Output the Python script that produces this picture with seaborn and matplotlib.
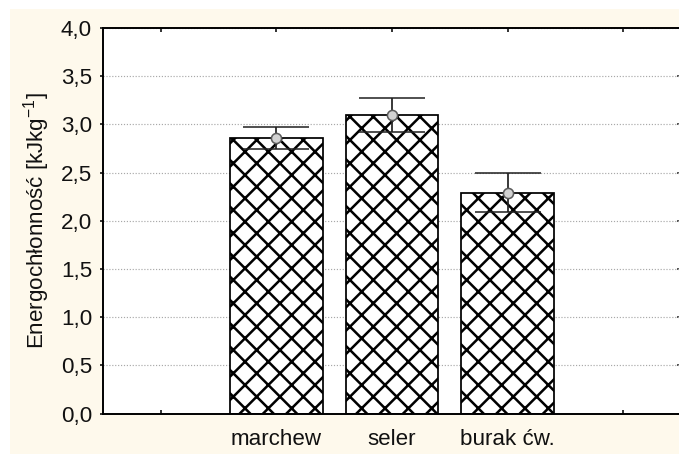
import numpy as np
import pandas as pd
import matplotlib
matplotlib.use("Agg")
import matplotlib.pyplot as plt
from matplotlib.patches import Rectangle
from matplotlib.ticker import FuncFormatter
import seaborn as sns

# Mean specific energy with confidence interval limits
categories = ["marchew", "seler", "burak ćw."]
means = [2.86, 3.10, 2.29]
ci_low = [2.74, 2.92, 2.09]
ci_high = [2.97, 3.27, 2.50]
y_ticks = [0.0, 0.5, 1.0, 1.5, 2.0, 2.5, 3.0, 3.5, 4.0]
y_label = "Energochłonność [kJkg$^{-1}$]"

sns.set_theme(style="white")
plt.rcParams["font.family"] = ["Liberation Sans", "DejaVu Sans"]
plt.rcParams["mathtext.fontset"] = "custom"
plt.rcParams["mathtext.rm"] = "Liberation Sans"
plt.rcParams["mathtext.it"] = "Liberation Sans"
plt.rcParams["hatch.linewidth"] = 1.3
plt.rcParams["hatch.color"] = "black"

FS = 11.5
DPI = 140
fig = plt.figure(figsize=(679 / DPI, 454 / DPI), dpi=DPI)
fig.patch.set_facecolor("white")
fig.patches.append(Rectangle((10 / 679, 0), 1, (454 - 9) / 454,
                             transform=fig.transFigure, facecolor="#FEF9EC",
                             edgecolor="none", zorder=-10))

ax = fig.add_axes([103 / 679, (454 - 413.7) / 454, 578 / 679, 385.7 / 454])
ax.set_facecolor("white")

df = pd.DataFrame({"produkt": categories, "energia": means})
order = [""] + categories + [" "]
sns.barplot(data=df, x="produkt", y="energia", order=order, ax=ax,
            color="white", saturation=1, edgecolor="black", linewidth=0.9,
            hatch="xx", width=0.8, errorbar=None, zorder=2)

# error bars centred on the drawn bars
centres = [p.get_x() + p.get_width() / 2 for p in ax.patches if p.get_height() > 0]
m = np.array(means)
yerr = [m - np.array(ci_low), np.array(ci_high) - m]
ax.errorbar(centres, m, yerr=yerr, fmt="o", color="#222222", elinewidth=0.9,
            capsize=17, capthick=0.9, ms=5.2, mfc="#d2d2d2", mec="#5a5a5a",
            mew=0.8, zorder=4)

ax.set_xlim(-0.5, len(order) - 0.5)
ax.set_ylim(0, 4.0)
ax.set_yticks(y_ticks)
ax.yaxis.set_major_formatter(FuncFormatter(lambda v, _: f"{v:.1f}".replace(".", ",")))
ax.set_xlabel("")
ax.set_ylabel(y_label, fontsize=FS, color="#111111")
ax.yaxis.set_label_coords(-0.088, 0.5)

ax.grid(axis="y", linestyle=(0, (1, 1.5)), color="#a8a8a8", linewidth=0.6, zorder=0)
ax.set_axisbelow(True)

for s in ax.spines.values():
    s.set_visible(True)
    s.set_color("black")
    s.set_linewidth(1.0)

ax.tick_params(axis="x", direction="in", top=True, bottom=True, length=2.2,
               width=0.8, color="black", labelsize=FS, pad=8.0, labelcolor="#111111")
ax.tick_params(axis="y", direction="out", left=True, right=False, length=1.6,
               width=0.8, color="black", labelsize=FS, pad=4.0, labelcolor="#111111")

right = ax.secondary_yaxis("right")
right.set_yticks(y_ticks)
right.tick_params(direction="in", length=2.2, width=0.8, labelright=False)
right.spines["right"].set_linewidth(1.0)

fig.savefig("out.png", dpi=DPI, facecolor=fig.get_facecolor())
